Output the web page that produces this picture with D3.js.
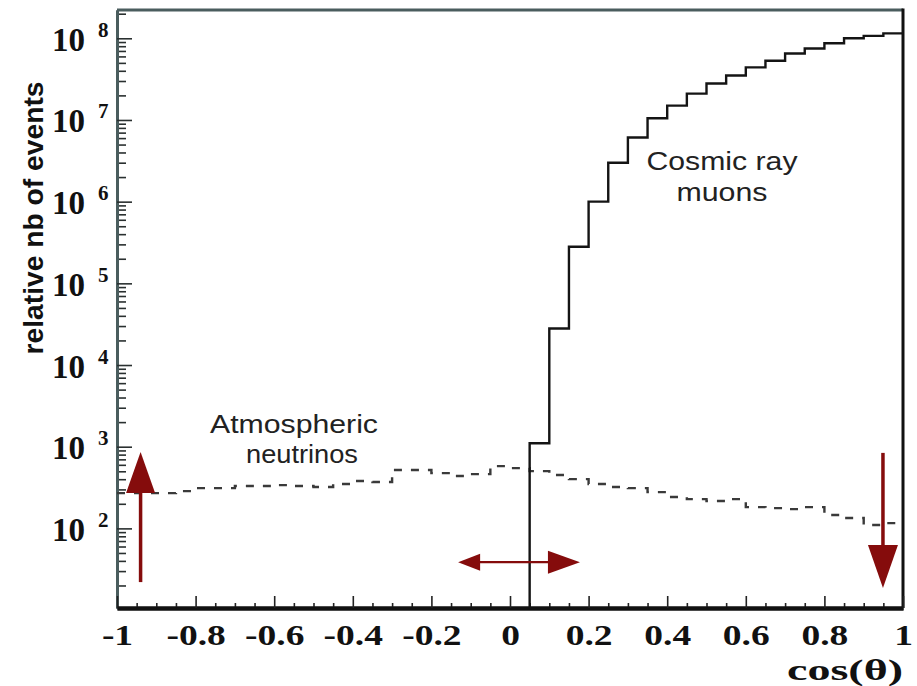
<!DOCTYPE html>
<html>
<head>
<meta charset="utf-8">
<script src="https://cdn.jsdelivr.net/npm/d3@7"></script>
<style>
  html, body { margin: 0; padding: 0; background: #ffffff; }
  svg { display: block; }
</style>
</head>
<body>
<svg id="chart" width="917" height="686"></svg>
<script>
// ---------------- DATA ----------------
const xTickValues = [-1, -0.8, -0.6, -0.4, -0.2, 0, 0.2, 0.4, 0.6, 0.8, 1];
const xTickLabels = ["-1", "-0.8", "-0.6", "-0.4", "-0.2", "0", "0.2", "0.4", "0.6", "0.8", "1"];
const yDecadeExponents = [2, 3, 4, 5, 6, 7, 8];
const yMinorMultipliers = [2, 3, 4, 5, 6, 7, 8, 9];
const binWidth = 0.05;

// Cosmic ray muons: lower edge of each bin and its content
const muonBinLow = [0.05, 0.10, 0.15, 0.20, 0.25, 0.30, 0.35, 0.40, 0.45, 0.50,
                    0.55, 0.60, 0.65, 0.70, 0.75, 0.80, 0.85, 0.90, 0.95];
const muonCounts = [1.1e3, 2.8e4, 2.8e5, 1.0e6, 3.0e6, 6.1e6, 1.05e7, 1.5e7, 2.1e7, 2.8e7,
                    3.5e7, 4.4e7, 5.3e7, 6.5e7, 7.5e7, 8.7e7, 1.0e8, 1.07e8, 1.15e8];

// Atmospheric neutrinos
const nuBinLow = [-1.00, -0.95, -0.90, -0.85, -0.80, -0.75, -0.70, -0.65, -0.60, -0.55,
                  -0.50, -0.45, -0.40, -0.35, -0.30, -0.25, -0.20, -0.15, -0.10, -0.05,
                   0.00,  0.05,  0.10,  0.15,  0.20,  0.25,  0.30,  0.35,  0.40,  0.45,
                   0.50,  0.55,  0.60,  0.65,  0.70,  0.75,  0.80,  0.85,  0.90,  0.95];
const nuCounts = [270, 270, 270, 286, 311, 311, 330, 330, 339, 330,
                  321, 349, 380, 369, 518, 518, 475, 437, 462, 579,
                  547, 503, 450, 401, 349, 321, 311, 278, 242, 228,
                  216, 228, 182, 177, 172, 182, 146, 134, 110, 116];

// Annotation arrows (data coordinates: cos, events)
const arrowUp    = { x: -0.94, from: 22,  to: 860 };
const arrowDown  = { x: 0.949, from: 840, to: 18.6 };
const arrowHoriz = { y: 38.6, from: -0.132, to: 0.178 };

// ---------------- SCALES ----------------
const svg = d3.select("#chart");
const x = d3.scaleLinear().domain([-1, 1]).range([117, 903]);
const y = d3.scaleLog().domain([10.6, 2.22e8]).range([608, 10]);

const darkRed = "#850c0c";
const frameGrey = "#4a5d5e";
const serif = "'Liberation Serif', 'Times New Roman', serif";
const sans = "'Liberation Sans', Arial, Helvetica, sans-serif";

// ---------------- FRAME ----------------
svg.append("line")
  .attr("x1", x(-1)).attr("x2", x(1)).attr("y1", y.range()[1]).attr("y2", y.range()[1])
  .attr("stroke", frameGrey).attr("stroke-width", 3);
svg.append("line")
  .attr("x1", x(1)).attr("x2", x(1)).attr("y1", y.range()[1] - 1.5).attr("y2", y.range()[0])
  .attr("stroke", "#111").attr("stroke-width", 3);

// ---------------- Y AXIS ----------------
const majorY = yDecadeExponents.map(e => Math.pow(10, e));
const minorY = [];
[1].concat(yDecadeExponents).forEach(e => {
  yMinorMultipliers.forEach(m => {
    const v = m * Math.pow(10, e);
    if (v >= y.domain()[0] && v <= y.domain()[1]) minorY.push(v);
  });
});
const yMinorG = svg.append("g").attr("transform", `translate(${x(-1)},0)`)
  .call(d3.axisLeft(y).tickValues(minorY).tickSize(-9).tickSizeOuter(0).tickFormat(""));
const yMajorG = svg.append("g").attr("transform", `translate(${x(-1)},0)`)
  .call(d3.axisLeft(y).tickValues(majorY).tickSize(-15).tickSizeOuter(0).tickFormat(""));
[yMinorG, yMajorG].forEach(g => {
  g.select(".domain").attr("stroke", frameGrey).attr("stroke-width", 3);
  g.selectAll(".tick line").attr("stroke", "#2a3030").attr("stroke-width", 1.6);
});
yMajorG.selectAll(".tick").each(function(d) {
  const t = d3.select(this);
  t.append("text")
    .attr("x", 85 - x(-1)).attr("y", 12)
    .attr("text-anchor", "end")
    .attr("fill", "#111")
    .style("font-family", serif).style("font-weight", "bold").style("font-size", "33px")
    .text("10");
  t.append("text")
    .attr("x", 98 - x(-1)).attr("y", -2)
    .attr("text-anchor", "start")
    .attr("fill", "#111")
    .style("font-family", serif).style("font-weight", "bold").style("font-size", "21px")
    .text(String(Math.round(Math.log10(d))));
});

// ---------------- X AXIS ----------------
const minorX = nuBinLow.concat([1]).filter(v => !xTickValues.some(t => Math.abs(t - v) < 1e-6));
const xMinorG = svg.append("g").attr("transform", `translate(0,${y.range()[0]})`)
  .call(d3.axisBottom(x).tickValues(minorX).tickSize(-5).tickSizeOuter(0).tickFormat(""));
const xMajorG = svg.append("g").attr("transform", `translate(0,${y.range()[0]})`)
  .call(d3.axisBottom(x).tickValues(xTickValues).tickSize(-12).tickSizeOuter(0)
        .tickFormat((d, i) => xTickLabels[i]));
[xMinorG, xMajorG].forEach(g => {
  g.select(".domain").attr("stroke", "#111").attr("stroke-width", 4);
  g.selectAll(".tick line").attr("stroke", "#222").attr("stroke-width", 1.6);
});
xMajorG.selectAll(".tick text")
  .attr("y", 37).attr("dy", 0)
  .attr("fill", "#111")
  .style("font-family", serif).style("font-weight", "bold").style("font-size", "30px")
  .each(function() {
    const w = this.getComputedTextLength();
    d3.select(this).attr("textLength", w * 1.25).attr("lengthAdjust", "spacingAndGlyphs");
  });

// axis titles
svg.append("text")
  .attr("x", 903).attr("y", 680)
  .attr("text-anchor", "end")
  .attr("fill", "#111")
  .attr("textLength", 116).attr("lengthAdjust", "spacingAndGlyphs")
  .style("font-family", serif).style("font-weight", "bold").style("font-size", "30px")
  .text("cos(θ)");

svg.append("text")
  .attr("transform", "translate(43,218) rotate(-90)")
  .attr("text-anchor", "middle")
  .attr("fill", "#111")
  .attr("textLength", 273).attr("lengthAdjust", "spacingAndGlyphs")
  .style("font-family", sans).style("font-weight", "bold").style("font-size", "28px")
  .text("relative nb of events");

// ---------------- HISTOGRAMS ----------------
const stepLine = d3.line().x(d => x(d[0])).y(d => y(d[1])).curve(d3.curveStepAfter);

// neutrinos (dashed)
const nuPts = nuBinLow.map((b, i) => [b, nuCounts[i]]);
nuPts.push([nuBinLow[nuBinLow.length - 1] + binWidth, nuCounts[nuCounts.length - 1]]);
svg.append("path")
  .attr("d", stepLine(nuPts))
  .attr("fill", "none")
  .attr("stroke", "#3a3a3a")
  .attr("stroke-width", 2.4)
  .attr("stroke-dasharray", "8,9");

// muons (solid step, starting with a vertical edge from the axis at 0.05)
const muPath = [[muonBinLow[0], y.domain()[0]]];
muonBinLow.forEach((b, i) => { muPath.push([b, muonCounts[i]]); muPath.push([b + binWidth, muonCounts[i]]); });
svg.append("path")
  .attr("d", d3.line().x(d => x(d[0])).y(d => y(d[1]))(muPath))
  .attr("fill", "none")
  .attr("stroke", "#141414")
  .attr("stroke-width", 2.4);

// ---------------- ARROWS ----------------
function arrowHead(tipX, tipY, dirX, dirY, len, half) {
  const bx = tipX - dirX * len, by = tipY - dirY * len;
  const px = -dirY, py = dirX;
  return `M${tipX},${tipY}L${bx + px * half},${by + py * half}L${bx - px * half},${by - py * half}Z`;
}
{
  const ax = x(arrowUp.x), y0 = y(arrowUp.from), y1 = y(arrowUp.to);
  svg.append("line").attr("x1", ax).attr("x2", ax).attr("y1", y0).attr("y2", y1 + 30)
    .attr("stroke", darkRed).attr("stroke-width", 3.5);
  svg.append("path").attr("d", arrowHead(ax, y1, 0, -1, 41, 14.5)).attr("fill", darkRed);
}
{
  const ax = x(arrowDown.x), y0 = y(arrowDown.from), y1 = y(arrowDown.to);
  svg.append("line").attr("x1", ax).attr("x2", ax).attr("y1", y0).attr("y2", y1 - 30)
    .attr("stroke", darkRed).attr("stroke-width", 3.5);
  svg.append("path").attr("d", arrowHead(ax, y1, 0, 1, 43, 15)).attr("fill", darkRed);
}
{
  const ay = y(arrowHoriz.y), x0 = x(arrowHoriz.from), x1 = x(arrowHoriz.to);
  svg.append("line").attr("x1", x0 + 15).attr("x2", x1 - 20).attr("y1", ay).attr("y2", ay)
    .attr("stroke", darkRed).attr("stroke-width", 2.2);
  svg.append("path").attr("d", arrowHead(x0, ay, -1, 0, 22, 8.5)).attr("fill", darkRed);
  svg.append("path").attr("d", arrowHead(x1, ay, 1, 0, 32, 11.5)).attr("fill", darkRed);
}

// ---------------- LABELS ----------------
function label(txt, cx, by, len) {
  svg.append("text")
    .attr("x", cx).attr("y", by)
    .attr("text-anchor", "middle")
    .attr("fill", "#222")
    .attr("textLength", len).attr("lengthAdjust", "spacingAndGlyphs")
    .style("font-family", sans).style("font-size", "25px")
    .text(txt);
}
label("Cosmic ray", 722, 170, 151);
label("muons", 722, 201, 91);
label("Atmospheric", 294, 433, 168);
label("neutrinos", 302, 463, 112);
</script>
</body>
</html>
